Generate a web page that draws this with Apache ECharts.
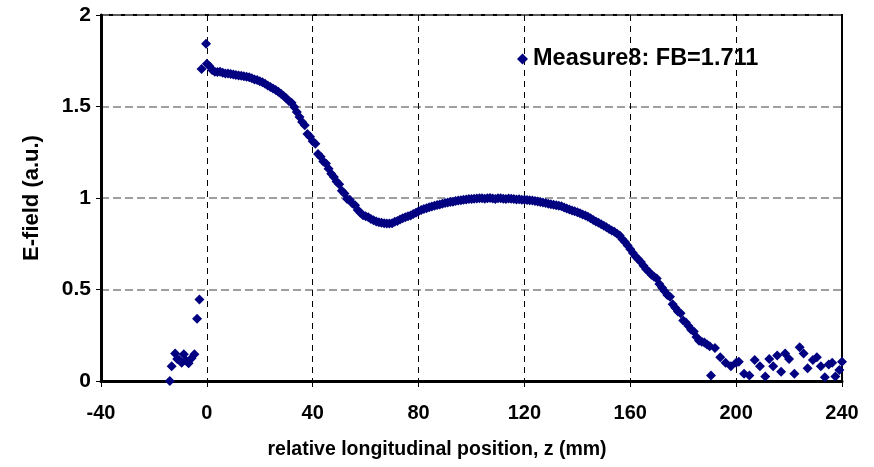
<!DOCTYPE html>
<html>
<head>
<meta charset="utf-8">
<script src="https://cdn.jsdelivr.net/npm/echarts@6/dist/echarts.min.js"></script>
<style>html,body{margin:0;padding:0;background:#fff}#c{width:874px;height:467px}</style>
</head>
<body>
<div id="c"></div>
<script>
const seriesName = 'Measure8: FB=1.711';
const xTicks = [-40, 0, 40, 80, 120, 160, 200, 240];
const yTicks = [0, 0.5, 1, 1.5, 2];

// points before the cavity start (z in mm)
const preZ = [-14, -13.3, -12, -11.2, -10.4, -9.5, -8.7, -7.8, -6.9, -5.8, -4.7, -3.7, -2.8, -2.0, -0.3];
const preE = [0.0, 0.08, 0.15, 0.12, 0.115, 0.10, 0.146, 0.11, 0.097, 0.125, 0.146, 0.34, 0.446, 1.705, 1.843];

// main profile, one reading per mm from z = 0 to z = 190
const mainStartZ = 0;
const mainStepZ = 1;
const mainE = [
  1.733, 1.72, 1.70, 1.69, 1.688, 1.69, 1.685, 1.68, 1.68, 1.678,
  1.675, 1.672, 1.67, 1.668, 1.665, 1.662, 1.66, 1.655, 1.648, 1.645,
  1.638, 1.632, 1.625, 1.615, 1.607, 1.598, 1.59, 1.58, 1.57, 1.558,
  1.545, 1.53, 1.52, 1.497, 1.47, 1.443, 1.415, 1.397, 1.35, 1.335,
  1.31, 1.297, 1.24, 1.225, 1.20, 1.188, 1.16, 1.133, 1.115, 1.09,
  1.075, 1.04, 1.025, 0.995, 0.99, 0.97, 0.96, 0.935, 0.92, 0.906,
  0.90, 0.895, 0.885, 0.878, 0.872, 0.868, 0.865, 0.862, 0.86, 0.861,
  0.862, 0.87, 0.875, 0.882, 0.89, 0.895, 0.90, 0.905, 0.913, 0.92,
  0.928, 0.935, 0.94, 0.944, 0.95, 0.954, 0.958, 0.962, 0.965, 0.968,
  0.972, 0.975, 0.978, 0.98, 0.983, 0.986, 0.988, 0.99, 0.992, 0.994,
  0.995, 0.996, 0.997, 0.999, 0.998, 0.996, 0.998, 1.0, 0.997, 0.995,
  0.998, 0.999, 0.996, 0.994, 0.997, 0.996, 0.995, 0.992, 0.993, 0.991,
  0.99, 0.989, 0.988, 0.986, 0.984, 0.981, 0.978, 0.975, 0.972, 0.969,
  0.966, 0.963, 0.96, 0.958, 0.955, 0.948, 0.942, 0.937, 0.932, 0.927,
  0.922, 0.916, 0.91, 0.904, 0.898, 0.889, 0.88, 0.872, 0.865, 0.856,
  0.848, 0.84, 0.83, 0.822, 0.815, 0.805, 0.795, 0.775, 0.76, 0.74,
  0.72, 0.70, 0.68, 0.665, 0.65, 0.63, 0.61, 0.597, 0.58, 0.57,
  0.56, 0.53, 0.51, 0.49, 0.47, 0.46, 0.42, 0.40, 0.38, 0.37,
  0.33, 0.32, 0.30, 0.28, 0.27, 0.24, 0.22, 0.215, 0.21, 0.20,
  0.19
];

// noisy tail beyond the cavity end
const tailZ = [190.5, 192, 194, 196, 198, 200, 201, 203, 205, 207, 209, 211, 212.5, 214, 215.5, 217, 218.5,
  220, 222, 224, 225.5, 227, 229, 230.5, 232, 233.5, 235, 236.3, 237.5, 239, 240];
const tailE = [0.03, 0.18, 0.13, 0.10, 0.08, 0.10, 0.105, 0.04, 0.03, 0.115, 0.08, 0.025, 0.12, 0.08, 0.14, 0.05, 0.15,
  0.12, 0.04, 0.185, 0.15, 0.07, 0.115, 0.13, 0.08, 0.02, 0.09, 0.10, 0.025, 0.06, 0.105];

const points = [];
preZ.forEach((z, i) => points.push([z, preE[i]]));
mainE.forEach((e, i) => points.push([mainStartZ + i * mainStepZ, e]));
tailZ.forEach((z, i) => points.push([z, tailE[i]]));

const font = '"Liberation Sans", Arial, sans-serif';
const chart = echarts.init(document.getElementById('c'), null, {renderer: 'canvas'});
chart.setOption({
  animation: false,
  backgroundColor: '#ffffff',
  grid: {left: 101, right: 32, top: 15, bottom: 86, show: true, borderColor: '#000', borderWidth: 2, backgroundColor: 'transparent'},
  xAxis: {
    type: 'value', min: xTicks[0], max: xTicks[xTicks.length - 1], interval: 40,
    axisLine: {show: true, onZero: false, lineStyle: {color: '#000', width: 3}},
    axisTick: {show: true, length: 6, lineStyle: {color: '#000', width: 1}},
    axisLabel: {color: '#000', fontFamily: font, fontWeight: 'bold', fontSize: 20, margin: 22},
    splitLine: {show: true, lineStyle: {color: '#000', type: [6, 5], width: 1}}
  },
  yAxis: {
    type: 'value', min: yTicks[0], max: yTicks[yTicks.length - 1], interval: 0.5,
    axisLine: {show: true, onZero: false, lineStyle: {color: '#000', width: 3}},
    axisTick: {show: true, length: 5, lineStyle: {color: '#000', width: 1}},
    axisLabel: {color: '#000', fontFamily: font, fontWeight: 'bold', fontSize: 21, margin: 10,
      formatter: v => String(v)},
    splitLine: {show: true, lineStyle: {color: '#808080', type: [8, 4], width: 1.5}},
    name: 'E-field (a.u.)', nameLocation: 'middle', nameGap: 58, nameRotate: 90,
    nameTextStyle: {color: '#000', fontFamily: font, fontWeight: 'bold', fontSize: 22}
  },
  legend: {
    show: true, left: 512, top: 42, itemWidth: 11, itemHeight: 11, itemGap: 8,
    icon: 'diamond',
    textStyle: {color: '#000', fontFamily: font, fontWeight: 'bold', fontSize: 23.5},
    data: [seriesName]
  },
  graphic: [{
    type: 'text', left: 'center', top: 440,
    style: {text: 'relative longitudinal position, z (mm)', fill: '#000', font: 'bold 19.5px ' + font}
  }],
  series: [{
    name: seriesName, type: 'scatter', data: points,
    symbol: 'diamond', symbolSize: 10,
    itemStyle: {color: '#000080', opacity: 1}
  }]
});
</script>
</body>
</html>
